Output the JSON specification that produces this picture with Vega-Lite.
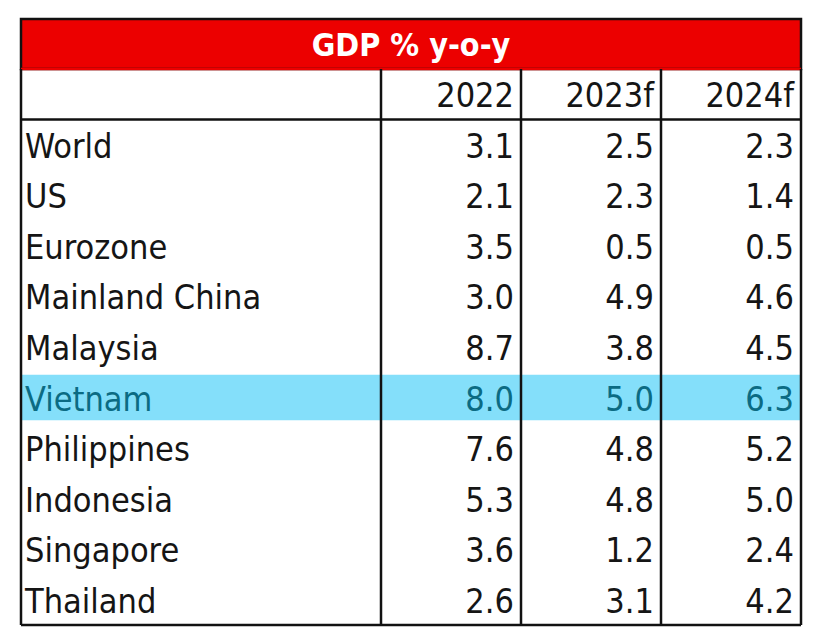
{
  "$schema": "https://vega.github.io/schema/vega-lite/v6.json",
  "padding": {"left": 18, "top": 17, "right": 0, "bottom": 0},
  "background": "white",
  "config": {
    "view": {"stroke": null},
    "text": {"font": "DejaVu Sans Condensed, sans-serif", "fontSize": 34},
    "rule": {"stroke": "#111111", "strokeWidth": 2.5}
  },
  "datasets": {
    "title": [{"title": "GDP % y-o-y"}],
    "years": [{"row": "header", "year": "2022"}, {"row": "header", "year": "2023f"}, {"row": "header", "year": "2024f"}],
    "rows": [
      {"country": "World"}, {"country": "US"}, {"country": "Eurozone"}, {"country": "Mainland China"},
      {"country": "Malaysia"}, {"country": "Vietnam"}, {"country": "Philippines"}, {"country": "Indonesia"},
      {"country": "Singapore"}, {"country": "Thailand"}
    ],
    "gdp": [
      {"country": "World", "year": "2022", "value": 3.1}, {"country": "World", "year": "2023f", "value": 2.5}, {"country": "World", "year": "2024f", "value": 2.3},
      {"country": "US", "year": "2022", "value": 2.1}, {"country": "US", "year": "2023f", "value": 2.3}, {"country": "US", "year": "2024f", "value": 1.4},
      {"country": "Eurozone", "year": "2022", "value": 3.5}, {"country": "Eurozone", "year": "2023f", "value": 0.5}, {"country": "Eurozone", "year": "2024f", "value": 0.5},
      {"country": "Mainland China", "year": "2022", "value": 3.0}, {"country": "Mainland China", "year": "2023f", "value": 4.9}, {"country": "Mainland China", "year": "2024f", "value": 4.6},
      {"country": "Malaysia", "year": "2022", "value": 8.7}, {"country": "Malaysia", "year": "2023f", "value": 3.8}, {"country": "Malaysia", "year": "2024f", "value": 4.5},
      {"country": "Vietnam", "year": "2022", "value": 8.0}, {"country": "Vietnam", "year": "2023f", "value": 5.0}, {"country": "Vietnam", "year": "2024f", "value": 6.3},
      {"country": "Philippines", "year": "2022", "value": 7.6}, {"country": "Philippines", "year": "2023f", "value": 4.8}, {"country": "Philippines", "year": "2024f", "value": 5.2},
      {"country": "Indonesia", "year": "2022", "value": 5.3}, {"country": "Indonesia", "year": "2023f", "value": 4.8}, {"country": "Indonesia", "year": "2024f", "value": 5.0},
      {"country": "Singapore", "year": "2022", "value": 3.6}, {"country": "Singapore", "year": "2023f", "value": 1.2}, {"country": "Singapore", "year": "2024f", "value": 2.4},
      {"country": "Thailand", "year": "2022", "value": 2.6}, {"country": "Thailand", "year": "2023f", "value": 3.1}, {"country": "Thailand", "year": "2024f", "value": 4.2}
    ]
  },
  "spacing": 0,
  "bounds": "flush",
  "vconcat": [
    {
      "width": 780,
      "height": 50,
      "view": {"fill": "#ec0000", "stroke": "#111111", "strokeWidth": 2.5},
      "data": {"name": "title"},
      "layer": [
        {
          "mark": {"type": "rule", "stroke": "#ec0000", "strokeWidth": 2.6},
          "encoding": {"y": {"value": "height"}}
        },
        {
          "mark": {"type": "text", "fontWeight": "bold", "fill": "white", "fontSize": 32, "baseline": "alphabetic", "dy": 12},
          "encoding": {"text": {"field": "title", "type": "nominal"}}
        }
      ]
    },
    {
      "spacing": 0,
      "bounds": "flush",
      "hconcat": [
        {
          "width": 360,
          "height": 556,
          "data": {"name": "rows"},
          "layer": [
            {
              "transform": [{"filter": "datum.country === 'Vietnam'"}],
              "mark": {"type": "rect", "fill": "#84dffa", "height": {"band": 0.9}},
              "encoding": {
                "y": {"field": "country", "type": "nominal", "axis": null,
                  "scale": {"type": "band", "paddingInner": 0, "paddingOuter": 0,
                    "domain": ["header", "World", "US", "Eurozone", "Mainland China", "Malaysia", "Vietnam", "Philippines", "Indonesia", "Singapore", "Thailand"]}}
              }
            },
            {
              "transform": [{"filter": "datum.country === 'World'"}],
              "mark": {"type": "rule"},
              "encoding": {"y": {"field": "country", "type": "nominal", "bandPosition": 0, "axis": null}}
            },
            {
              "transform": [{"filter": "datum.country === 'Thailand'"}],
              "mark": {"type": "rule"},
              "encoding": {"y": {"field": "country", "type": "nominal", "bandPosition": 1, "axis": null}}
            },
            {
              "transform": [{"filter": "datum.country === 'World'"}],
              "mark": {"type": "rule"},
              "encoding": {"x": {"value": 0}}
            },
            {
              "mark": {"type": "text", "align": "left", "baseline": "alphabetic", "dx": 4, "dy": 13},
              "encoding": {
                "x": {"value": 0},
                "y": {"field": "country", "type": "nominal", "axis": null},
                "text": {"field": "country", "type": "nominal"},
                "color": {"condition": {"test": "datum.country === 'Vietnam'", "value": "#0b6b83"}, "value": "#151515"}
              }
            }
          ]
        },
        {
          "width": 420,
          "height": 556,
          "layer": [
            {
              "data": {"name": "rows"},
              "transform": [{"filter": "datum.country === 'Vietnam'"}],
              "mark": {"type": "rect", "fill": "#84dffa", "height": {"band": 0.9}},
              "encoding": {
                "y": {"field": "country", "type": "nominal", "axis": null,
                  "scale": {"type": "band", "paddingInner": 0, "paddingOuter": 0,
                    "domain": ["header", "World", "US", "Eurozone", "Mainland China", "Malaysia", "Vietnam", "Philippines", "Indonesia", "Singapore", "Thailand"]}}
              }
            },
            {
              "data": {"name": "rows"},
              "transform": [{"filter": "datum.country === 'World'"}],
              "mark": {"type": "rule"},
              "encoding": {"y": {"field": "country", "type": "nominal", "bandPosition": 0, "axis": null}}
            },
            {
              "data": {"name": "rows"},
              "transform": [{"filter": "datum.country === 'Thailand'"}],
              "mark": {"type": "rule"},
              "encoding": {"y": {"field": "country", "type": "nominal", "bandPosition": 1, "axis": null}}
            },
            {
              "data": {"name": "years"},
              "mark": {"type": "rule"},
              "encoding": {
                "x": {"field": "year", "type": "nominal", "bandPosition": 0, "axis": null,
                  "scale": {"type": "band", "paddingInner": 0, "paddingOuter": 0, "domain": ["2022", "2023f", "2024f"]}}
              }
            },
            {
              "data": {"name": "years"},
              "transform": [{"filter": "datum.year === '2024f'"}],
              "mark": {"type": "rule"},
              "encoding": {
                "x": {"field": "year", "type": "nominal", "bandPosition": 1, "axis": null}
              }
            },
            {
              "data": {"name": "years"},
              "mark": {"type": "text", "align": "right", "baseline": "alphabetic", "dx": -7, "dy": 12.5},
              "encoding": {
                "x": {"field": "year", "type": "nominal", "bandPosition": 1, "axis": null},
                "y": {"field": "row", "type": "nominal", "axis": null},
                "text": {"field": "year", "type": "nominal"},
                "color": {"value": "#151515"}
              }
            },
            {
              "data": {"name": "gdp"},
              "mark": {"type": "text", "align": "right", "baseline": "alphabetic", "dx": -7, "dy": 13},
              "encoding": {
                "x": {"field": "year", "type": "nominal", "bandPosition": 1, "axis": null},
                "y": {"field": "country", "type": "nominal", "axis": null},
                "text": {"field": "value", "type": "quantitative", "format": ".1f"},
                "color": {"condition": {"test": "datum.country === 'Vietnam'", "value": "#0b6b83"}, "value": "#151515"}
              }
            }
          ]
        }
      ]
    }
  ]
}
